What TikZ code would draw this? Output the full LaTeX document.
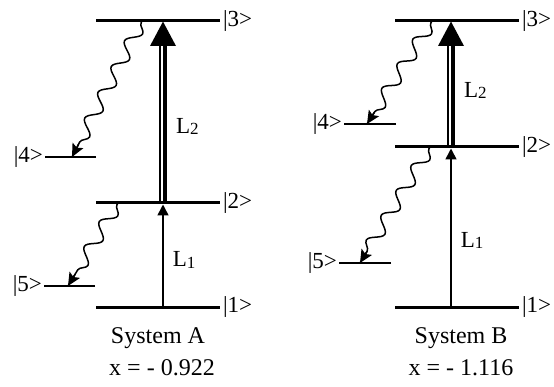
\documentclass[tikz,border=0pt]{standalone}
\usepackage{fontspec}
\setmainfont{Liberation Serif}
\usetikzlibrary{arrows.meta, decorations.pathmorphing, calc}

\newcommand{\Lsub}[1]{L\raisebox{-1.5pt}{\fontsize{17}{17}\selectfont #1}}

\begin{document}
\begin{tikzpicture}[
    x=10pt, y=10pt,
    font=\fontsize{23}{27}\selectfont,
    levelLine/.style={line width=3pt},
    sideLevel/.style={line width=1.2pt},
    ketLabel/.style={inner sep=1.5pt},
    laserLabel/.style={inner sep=0pt, right=9pt},
    caption/.style={anchor=base, font=\fontsize{24}{28}\selectfont},
    pumpThin/.style={line width=1.6pt, -{Triangle[length=11pt 0 0, width=11pt 0 0]}},
    pumpThick/.style={line width=8pt, -{Triangle[length=25pt 0 0, width=24pt 0 0]}},
    stripe/.style={draw=white, line width=2pt},
    decay/.style={line width=1.5pt,
        decorate, decoration={snake, amplitude=6.5pt, segment length=29pt, pre length=2pt, post length=12pt}},
    decayTip/.style={line width=1.5pt, -{Stealth[length=13pt, width=12pt, inset=2.5pt]}}
]
    \useasboundingbox (0,0) rectangle (55.4,38.6);

    % Anchor points of the laser arrows
    \coordinate (A1) at (16.3,7.9);
    \coordinate (A2) at (16.3,18.3);
    \coordinate (A3) at (16.3,36.5);
    \coordinate (B1) at (45.1,7.9);
    \coordinate (B2) at (45.1,23.9);
    \coordinate (B3) at (45.1,36.5);

    % Laser excitations
    \draw [pumpThin] (A1) -- ([yshift=-1.5pt]A2) node [pos=0.46, laserLabel] (LA1) {\Lsub{1}};
    \draw [pumpThick] (A2) -- (A3) node [pos=0.42, laserLabel] (LA2) {\Lsub{2}};
    \draw [stripe] ([xshift=-1pt]A2) -- ([xshift=-1pt, yshift=-25pt]A3);

    \draw [pumpThin] (B1) -- ([yshift=-1.5pt]B2) node [pos=0.42, laserLabel] (LB1) {\Lsub{1}};
    \draw [pumpThick] (B2) -- (B3) node [pos=0.45, laserLabel] (LB2) {\Lsub{2}};
    \draw [stripe] ([xshift=-1pt]B2) -- ([xshift=-1pt, yshift=-25pt]B3);

    % Main levels
    \foreach \name/\xa/\xb/\y/\lab in {
        A1/9.6/22.0/7.9/1,
        A2/9.6/22.0/18.3/2,
        A3/9.6/22.0/36.5/3,
        B1/39.5/51.9/7.9/1,
        B2/39.5/51.9/23.9/2,
        B3/39.5/51.9/36.5/3} {
        \draw [levelLine] (\xa,\y) -- (\xb,\y) node [right, ketLabel] (\name lab) {|\lab>};
    }

    % Side levels
    \foreach \name/\xa/\xb/\y/\lab in {
        A4/4.5/9.6/22.9/4,
        A5/4.4/9.5/10.0/5,
        B4/34.4/39.6/26.2/4,
        B5/33.9/39.1/12.3/5} {
        \draw [sideLevel] (\xb,\y) -- (\xa,\y) node [left, ketLabel] (\name lab) {|\lab>};
    }

    % Spontaneous decays
    \coordinate (A3d) at (14.2,36.5);
    \coordinate (A4d) at (7.2,22.9);
    \coordinate (A2d) at (11.8,18.3);
    \coordinate (A5d) at (6.8,10.0);
    \coordinate (B3d) at (43.2,36.5);
    \coordinate (B4d) at (36.7,26.2);
    \coordinate (B2d) at (43.0,23.9);
    \coordinate (B5d) at (36.0,12.3);
    \foreach \from/\to in {A3d/A4d, A2d/A5d, B3d/B4d, B2d/B5d} {
        \draw [decay] (\from) -- (\to);
        \draw [decayTip] ($(\to)!14pt!(\from)$) -- (\to);
    }

    % Captions
    \node [caption] (sysA) at (15.8,4.3) {System A};
    \node [caption] (valA) at (16.2,1.1) {x = - 0.922};
    \node [caption] (sysB) at (46.1,4.3) {System B};
    \node [caption] (valB) at (46.1,1.1) {x = - 1.116};
\end{tikzpicture}
\end{document}
